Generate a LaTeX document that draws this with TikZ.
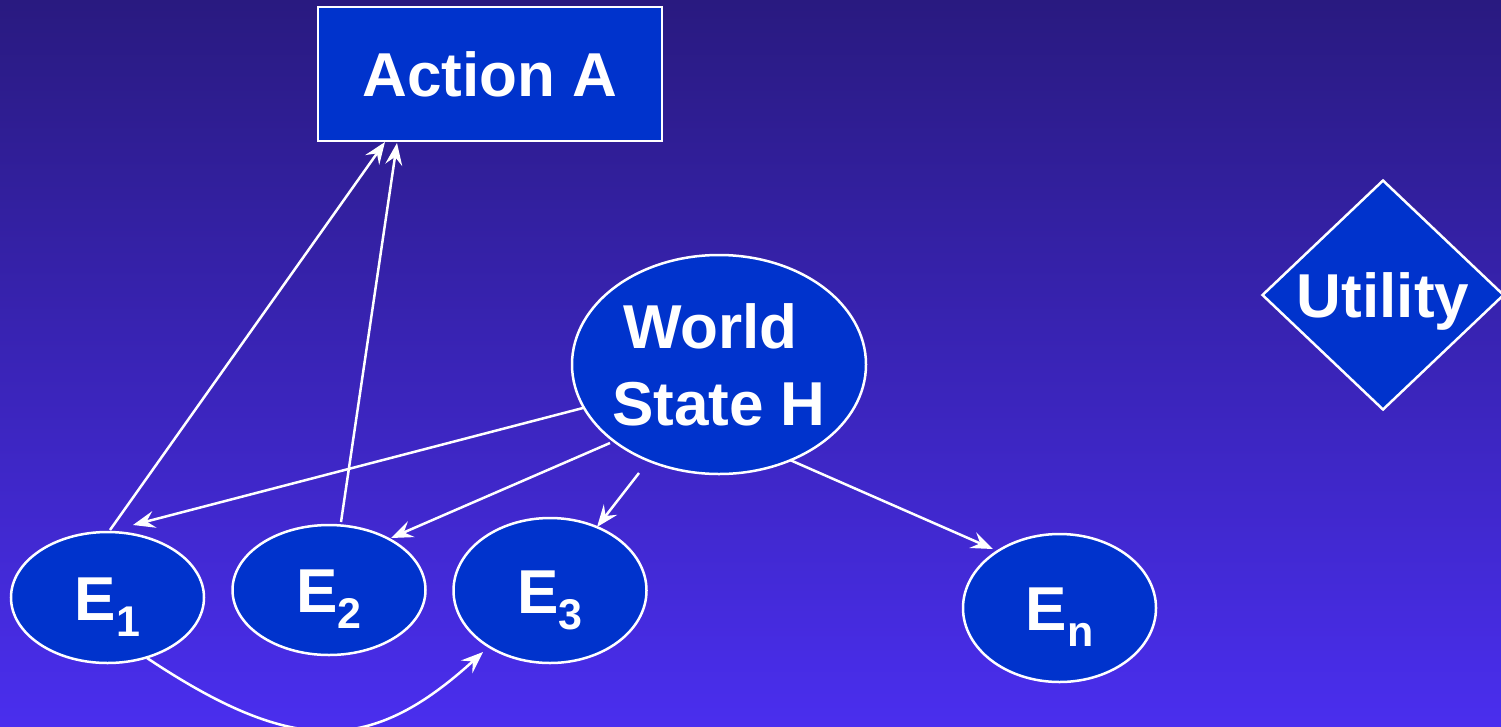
\documentclass[tikz,border=0pt]{standalone}
\usepackage{fontspec}
\setmainfont{Liberation Sans}
\usetikzlibrary{arrows.meta,shapes.geometric,calc}
\definecolor{bgtop}{RGB}{41,26,128}
\definecolor{bgbot}{RGB}{74,46,238}
\definecolor{nodeblue}{RGB}{0,51,204}
% lowered subscript for the evidence labels
\newcommand\esub[1]{\raisebox{-16pt}{\fontsize{43}{43}\selectfont #1}}
\begin{document}
\begin{tikzpicture}[x=1pt,y=-1pt,
  base/.style={draw=white, line width=2.5pt, fill=nodeblue, text=white,
    font=\bfseries\fontsize{62}{77}\selectfont, inner sep=0pt},
  capbox/.style={text height=45pt, text depth=0pt},
  evid/.style={base, capbox, ellipse, minimum width=193pt},
  link/.style={draw=white, line width=2.5pt,
    -{Stealth[length=22pt,width=17pt,inset=8pt]}},
]
% background
\shade[top color=bgtop,bottom color=bgbot] (0,0) rectangle (1501,726);
\useasboundingbox (0,0) rectangle (1501,726);

% nodes
\node[base, capbox, rectangle, minimum width=344pt, minimum height=134pt] (A) at (490,74) {Action A};
\node[base, ellipse, align=center, inner xsep=-6pt, minimum width=294pt, minimum height=219pt] (W) at (719,364.5)
  {World\hspace*{0.278em}\\State H};
\node[base, capbox, diamond, minimum width=242pt, minimum height=230pt] (U) at (1383,295) {Utility};
\node[evid, minimum height=131pt] (E1) at (107.5,597.5) {E\esub{1}};
\node[evid, minimum height=130pt] (E2) at (329,590) {E\esub{2}};
\node[evid, minimum height=145pt] (E3) at (550,590.5) {E\esub{3}};
\node[evid, minimum height=148pt] (En) at (1059.5,608) {E\esub{n}};

% connectors
\draw[link] ($(E1)+(2.5,-67.5)$) -- ($(A)+(-105,68)$);
\draw[link] ($(E2)+(12,-68)$) -- ($(A)+(-93,69)$);
\draw[link] ($(W)+(-136,43.5)$) -- ($(E1)+(25.5,-72.5)$);
\draw[link] ($(W)+(-109,78.5)$) -- ($(E2)+(62,-52)$);
\draw[link] ($(W)+(-80,108.5)$) -- ($(E3)+(47,-63.5)$);
\draw[link] ($(W)+(71,95.5)$) -- ($(En)+(-66.5,-59)$);
\draw[link] ($(E1)+(39.5,60.5)$) .. controls +(150,100) and +(-110,100) .. ($(E3)+(-67,61.5)$);
\end{tikzpicture}
\end{document}
